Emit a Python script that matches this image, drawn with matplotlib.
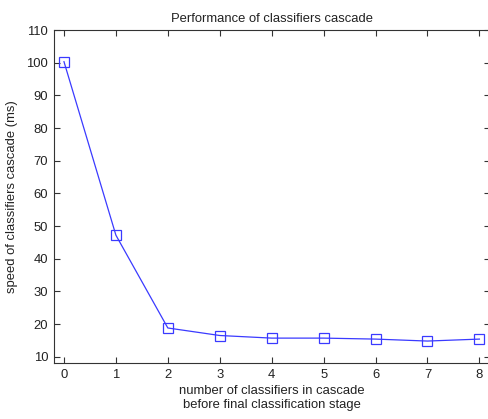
import matplotlib
matplotlib.use("Agg")
import matplotlib.pyplot as plt

# data
n_classifiers = [0, 1, 2, 3, 4, 5, 6, 7, 8]
speed_ms = [100.3, 47.2, 18.8, 16.5, 15.7, 15.7, 15.4, 14.8, 15.4]
x_ticks = [0, 1, 2, 3, 4, 5, 6, 7, 8]
y_ticks = [10, 20, 30, 40, 50, 60, 70, 80, 90, 100, 110]

plt.rcParams['font.family'] = ['Liberation Sans', 'DejaVu Sans']
plt.rcParams['font.size'] = 9

fig = plt.figure(figsize=(4.89, 4.19), dpi=100)
ax = fig.add_axes([0.1096, 0.133, 0.892, 0.7954])

ax.plot(n_classifiers, speed_ms, color='#3a3aff', linewidth=0.9,
        marker='s', markersize=7, markerfacecolor='none',
        markeredgecolor='#3a3aff', markeredgewidth=0.9)

ax.set_xlim(-0.2, 8.2)
ax.set_ylim(8, 110)
ax.set_xticks(x_ticks)
ax.set_yticks(y_ticks)
ax.tick_params(direction='in', top=True, right=True, length=4, pad=4,
               width=0.8, colors='#333333', labelcolor='#222222', labelsize=9.4)
for s in ax.spines.values():
    s.set_linewidth(0.8)
    s.set_color('#333333')

ax.set_title("Performance of classifiers cascade", fontsize=9.4, color='#222222', pad=6)
ax.set_xlabel("number of classifiers in cascade\nbefore final classification stage",
              fontsize=9.4, color='#222222', linespacing=1.25, labelpad=3)
ax.set_ylabel("speed of classifiers cascade (ms)", fontsize=9.4, color='#222222', labelpad=6)

fig.savefig("out.png", dpi=100)
